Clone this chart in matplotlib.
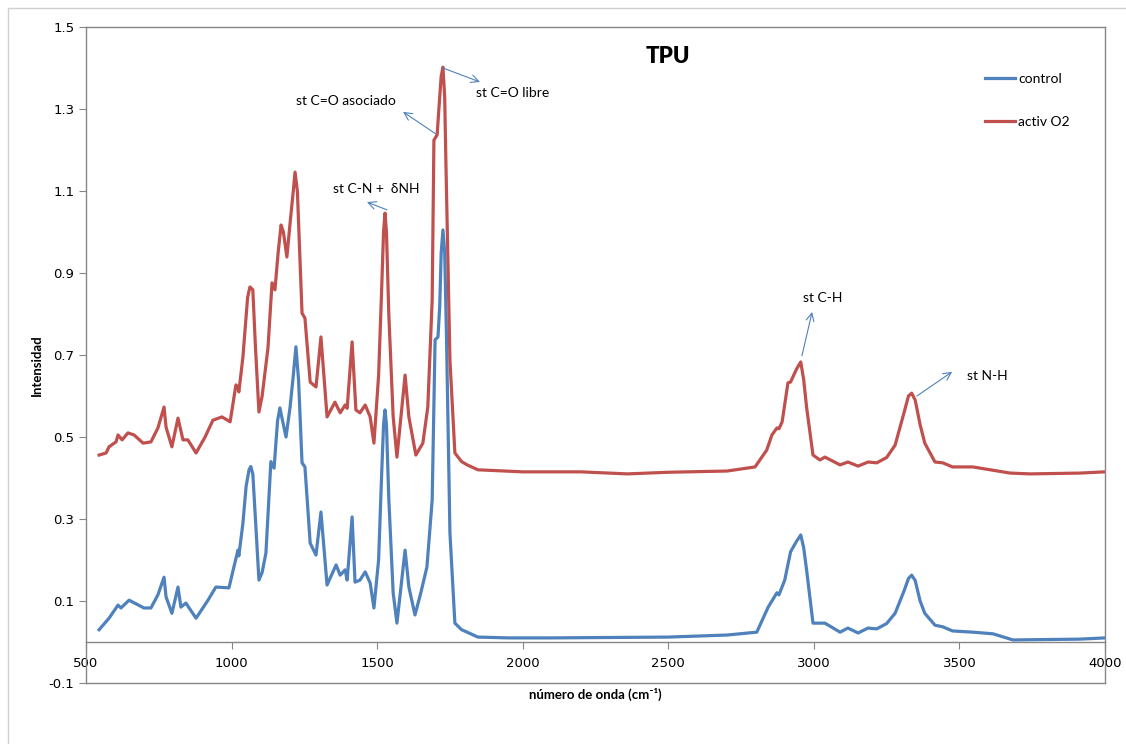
import numpy as np
import matplotlib
matplotlib.use('Agg')
import matplotlib.pyplot as plt
from matplotlib.patches import Rectangle

# espectros FTIR del TPU
wn_control = [545, 579, 610, 620, 648, 699, 723, 747, 768, 775, 795, 816, 826, 843, 878,
              919, 946, 991, 1008, 1022, 1025, 1039, 1050, 1060, 1066, 1073, 1082, 1094, 1105,
              1118, 1135, 1146, 1158, 1166, 1172, 1187, 1201, 1212, 1221, 1230, 1242, 1252,
              1270, 1290, 1307, 1328, 1359, 1373, 1390, 1397, 1414, 1424, 1441, 1459, 1476,
              1489, 1505, 1515, 1522, 1527, 1532, 1540, 1555, 1568, 1596, 1609, 1630, 1650,
              1671, 1689, 1699, 1709, 1715, 1720, 1726, 1732, 1738, 1744, 1750, 1767, 1790,
              1809, 1846, 1950, 2100, 2300, 2500, 2702, 2804, 2843, 2873, 2880, 2900, 2920,
              2940, 2955, 2965, 2975, 2997, 3038, 3090, 3117, 3152, 3186, 3216, 3250, 3279,
              3310, 3325, 3336, 3348, 3365, 3381, 3416, 3443, 3476, 3546, 3615, 3684, 3914,
              4000]
int_control = [0.03, 0.058, 0.09, 0.083, 0.102, 0.083, 0.083, 0.115, 0.158, 0.11, 0.07, 0.134,
               0.085, 0.095, 0.058, 0.102, 0.134, 0.132, 0.183, 0.224, 0.21, 0.29, 0.38, 0.42,
               0.428, 0.41, 0.3, 0.151, 0.17, 0.217, 0.44, 0.424, 0.54, 0.571, 0.55, 0.5, 0.573,
               0.65, 0.72, 0.64, 0.437, 0.427, 0.241, 0.212, 0.317, 0.139, 0.188, 0.163, 0.176,
               0.151, 0.305, 0.146, 0.151, 0.171, 0.144, 0.083, 0.2, 0.4, 0.53, 0.566, 0.53,
               0.35, 0.12, 0.046, 0.224, 0.134, 0.066, 0.12, 0.183, 0.346, 0.737, 0.744, 0.82,
               0.95, 1.005, 0.95, 0.75, 0.51, 0.266, 0.046, 0.03, 0.024, 0.012, 0.01, 0.01,
               0.011, 0.012, 0.017, 0.024, 0.085, 0.12, 0.115, 0.151, 0.22, 0.245, 0.261, 0.23,
               0.176, 0.046, 0.046, 0.024, 0.034, 0.022, 0.034, 0.032, 0.045, 0.07, 0.125,
               0.155, 0.163, 0.15, 0.1, 0.07, 0.041, 0.037, 0.027, 0.024, 0.02, 0.005, 0.007,
               0.01]

wn_activ = [545, 569, 579, 603, 610, 624, 644, 665, 696, 723, 747, 768, 775, 795, 816, 833,
            850, 878, 909, 936, 967, 995, 1015, 1022, 1025, 1039, 1055, 1063, 1073, 1082, 1094,
            1105, 1125, 1139, 1149, 1160, 1170, 1178, 1190, 1201, 1212, 1218, 1226, 1242, 1252,
            1270, 1290, 1307, 1328, 1355, 1373, 1390, 1397, 1414, 1427, 1441, 1459, 1476, 1489,
            1505, 1515, 1522, 1527, 1532, 1540, 1555, 1568, 1596, 1609, 1633, 1657, 1674, 1689,
            1695, 1706, 1715, 1720, 1726, 1732, 1736, 1744, 1750, 1767, 1790, 1809, 1846, 2000,
            2200, 2359, 2500, 2702, 2798, 2838, 2856, 2873, 2880, 2891, 2911, 2920, 2940, 2955,
            2965, 2975, 2997, 3021, 3038, 3090, 3117, 3152, 3186, 3216, 3250, 3279, 3310, 3325,
            3336, 3348, 3365, 3381, 3416, 3443, 3476, 3546, 3674, 3743, 3914, 4000]
int_activ = [0.456, 0.461, 0.476, 0.488, 0.505, 0.493, 0.51, 0.505, 0.485, 0.488, 0.522, 0.573,
             0.524, 0.476, 0.546, 0.493, 0.493, 0.461, 0.5, 0.541, 0.549, 0.537, 0.627, 0.622,
             0.61, 0.695, 0.84, 0.866, 0.859, 0.72, 0.561, 0.6, 0.717, 0.876, 0.859, 0.95, 1.017,
             1.0, 0.939, 1.022, 1.1, 1.146, 1.1, 0.802, 0.79, 0.634, 0.622, 0.744, 0.549, 0.585,
             0.559, 0.578, 0.57, 0.732, 0.566, 0.559, 0.578, 0.549, 0.485, 0.65, 0.85, 1.0,
             1.046, 1.0, 0.8, 0.55, 0.451, 0.651, 0.549, 0.456, 0.485, 0.573, 0.834, 1.224,
             1.237, 1.33, 1.38, 1.402, 1.33, 1.176, 0.9, 0.688, 0.461, 0.44, 0.432, 0.42, 0.415,
             0.415, 0.41, 0.414, 0.417, 0.427, 0.468, 0.505, 0.522, 0.52, 0.537, 0.632, 0.634,
             0.665, 0.683, 0.64, 0.573, 0.456, 0.444, 0.451, 0.432, 0.439, 0.429, 0.439, 0.437,
             0.45, 0.48, 0.56, 0.6, 0.607, 0.59, 0.53, 0.485, 0.439, 0.437, 0.427, 0.427, 0.412,
             0.41, 0.412, 0.415]

series_names = ['control', 'activ O2']
series_colors = ['#4F81BD', '#C0504D']

# etiquetas de bandas: texto, punta de flecha, origen de flecha, posicion del texto
band_labels = ['st C=O libre', 'st C=O asociado', 'st C-N +  δNH', 'st C-H', 'st N-H']
arrow_tail = [(1726, 1.40), (1702, 1.239), (1534, 1.054), (2959, 0.698), (3354, 0.60)]
arrow_head = [(1853, 1.366), (1589, 1.293), (1465, 1.073), (2994, 0.805), (3475, 0.659)]
label_pos = [(1840, 1.339), (1221, 1.32), (1348, 1.105), (2963, 0.839), (3526, 0.649)]

xticks = np.arange(500, 4001, 500)
yticks = np.round(np.arange(-0.1, 1.51, 0.2), 1)

txtfont = ['Lato', 'DejaVu Sans']

fig = plt.figure(figsize=(11.26, 7.44), dpi=100)
fig.patches.append(Rectangle((8/1126, -0.05), 1.2, (744-8)/744 + 0.05, transform=fig.transFigure,
                             fill=False, edgecolor='#d0d0d0', lw=1.0))
ax = fig.add_axes([86/1126, 61/744, 1019/1126, 656/744])

ax.plot(wn_control, int_control, color=series_colors[0], lw=2.3, label=series_names[0],
        solid_joinstyle='round')
ax.plot(wn_activ, int_activ, color=series_colors[1], lw=2.3, label=series_names[1],
        solid_joinstyle='round')

ax.set_xlim(500, 4000)
ax.set_ylim(-0.1, 1.5)
ax.set_xticks(xticks)
ax.set_yticks(yticks)
ax.set_yticklabels([f'{v:g}' for v in yticks])

for s in ['left', 'right', 'top', 'bottom']:
    ax.spines[s].set_color('#868686')
    ax.spines[s].set_linewidth(1.0)
ax.spines['bottom'].set_position(('data', 0))
ax.plot([0, 1], [0, 0], transform=ax.transAxes, color='#868686', lw=1.0, clip_on=False)
ax.tick_params(axis='both', direction='out', length=5, color='#868686',
               labelsize=9.5, labelcolor='#000000')
ax.tick_params(axis='x', pad=6)

ax.text(2499, 1.427, 'TPU', fontsize=16, fontweight='heavy', ha='center', va='center',
        family=txtfont)

for lab, tail, head, pos in zip(band_labels, arrow_tail, arrow_head, label_pos):
    ax.annotate('', xy=head, xytext=tail,
                arrowprops=dict(arrowstyle='->', color='#4F81BD', lw=0.8,
                                shrinkA=0, shrinkB=0, mutation_scale=14))
    ax.text(pos[0], pos[1], lab, fontsize=10, ha='left', va='center', family=txtfont)

leg = ax.legend(loc='upper left', bbox_to_anchor=(0.882, 0.93), frameon=False,
                borderpad=0, borderaxespad=0, handlelength=2.2, handletextpad=0.2,
                labelspacing=2.25, prop={'family': txtfont, 'size': 10})

fig.text(595/1126, 1 - 694/744, 'número de onda (cm⁻¹)', ha='center', va='center',
         fontsize=9.5, fontweight='bold', family=txtfont)
fig.text(37/1126, 1 - 365/744, 'Intensidad', ha='center', va='center', rotation=90,
         fontsize=9.5, fontweight='bold', family=txtfont)

fig.savefig('out.png', dpi=100)
